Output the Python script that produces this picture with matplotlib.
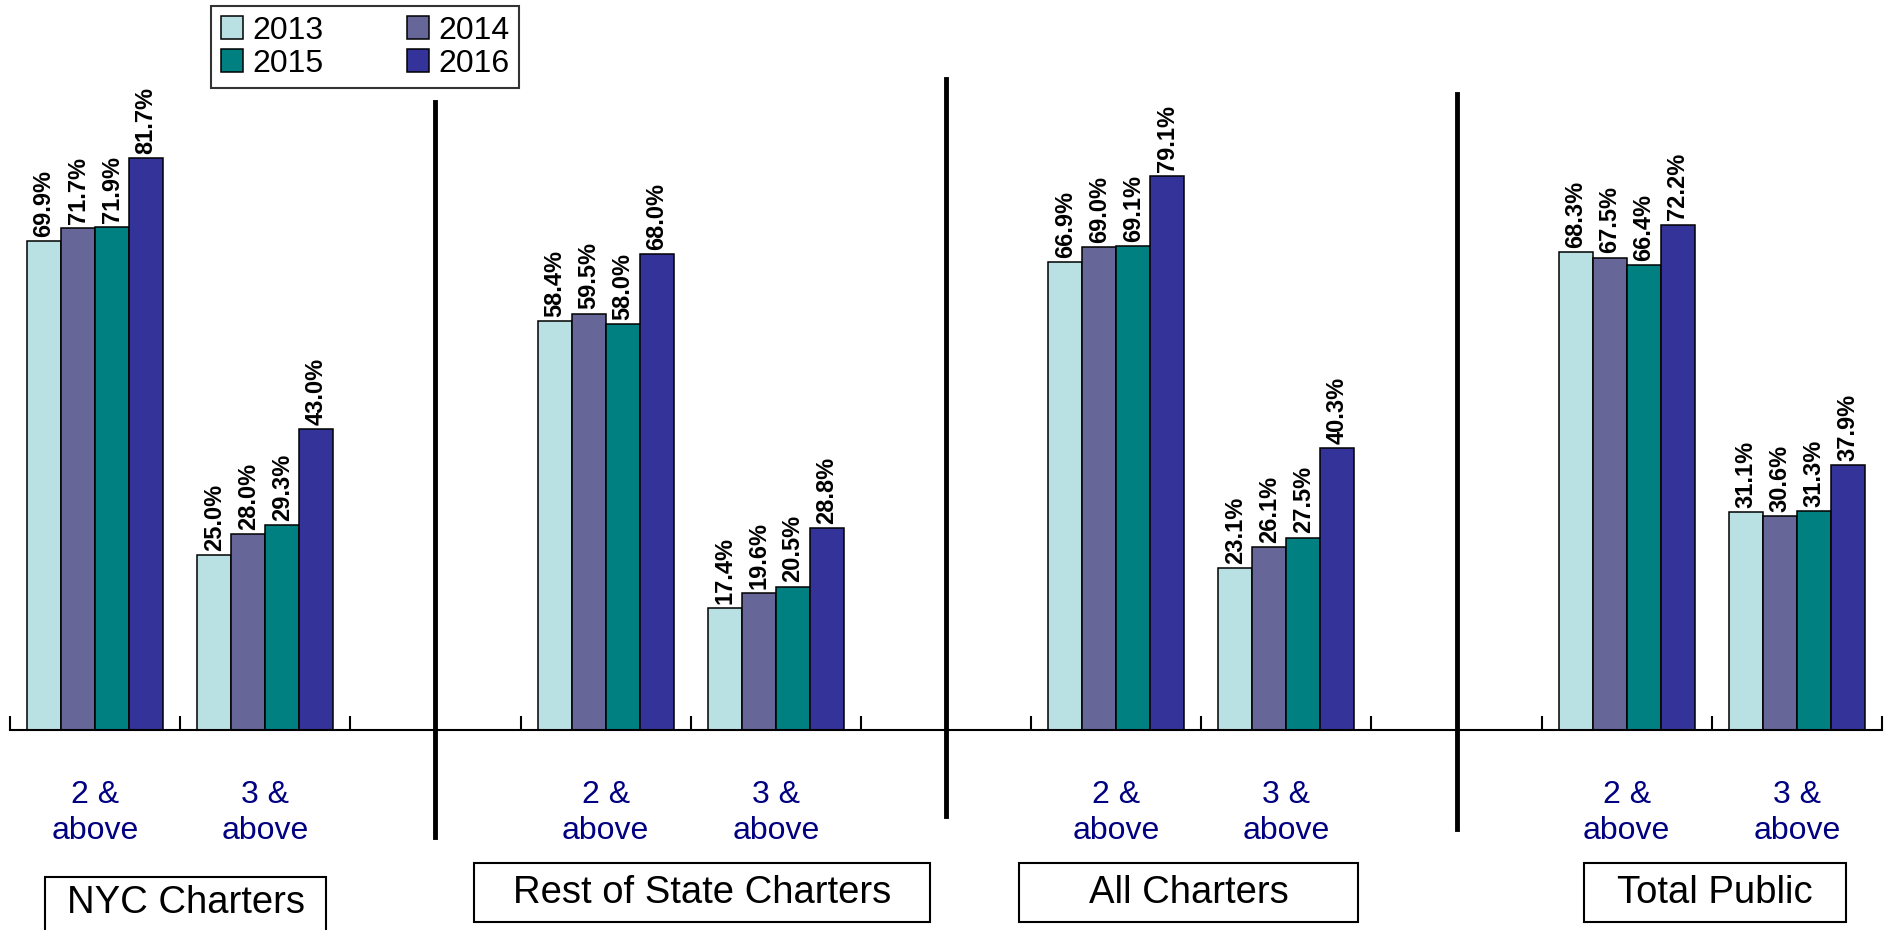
import numpy as np
import matplotlib.pyplot as plt
from matplotlib.patches import Rectangle
import matplotlib.transforms as mtransforms

plt.rcParams['font.family'] = ['Liberation Sans', 'DejaVu Sans']

years = ['2013', '2014', '2015', '2016']
colors = ['#B9E0E3', '#666699', '#008080', '#333399']
groups = ['NYC Charters', 'Rest of State Charters', 'All Charters', 'Total Public']
levels = ['2 &\nabove', '3 &\nabove']

# values[group][level][year]
values = {
    'NYC Charters': [[69.9, 71.7, 71.9, 81.7], [25.0, 28.0, 29.3, 43.0]],
    'Rest of State Charters': [[58.4, 59.5, 58.0, 68.0], [17.4, 19.6, 20.5, 28.8]],
    'All Charters': [[66.9, 69.0, 69.1, 79.1], [23.1, 26.1, 27.5, 40.3]],
    'Total Public': [[68.3, 67.5, 66.4, 72.2], [31.1, 30.6, 31.3, 37.9]],
}

fig = plt.figure(figsize=(18.84, 9.30), dpi=100)
ax = fig.add_axes([10 / 1884, 1 - 730 / 930, 1872 / 1884, 700 / 930])

bw = 0.2
centers = []
handles = {}
for g, name in enumerate(groups):
    for l in range(2):
        c = g * 3 + l
        centers.append(c)
        for k in range(4):
            v = values[name][l][k]
            x = c + (k - 1.5) * bw
            b = ax.bar(x, v, width=bw, color=colors[k], edgecolor='black', linewidth=1.1)
            handles.setdefault(years[k], b)
            ax.annotate(f'{v:.1f}%', (x, v), xytext=(0, 3), textcoords='offset points',
                        rotation=90, ha='center', va='bottom', fontsize=17,
                        fontweight='bold')

ax.set_xlim(-0.5, 10.5)
ax.set_ylim(0, 100)
for s in ['top', 'left', 'right']:
    ax.spines[s].set_visible(False)
ax.spines['bottom'].set_linewidth(1.5)
ax.set_yticks([])
ax.set_xticks(centers)
ax.set_xticklabels(levels * 4, fontsize=23, color='#000080', linespacing=1.25)
ax.set_xticks(np.arange(-0.5, 11, 1), minor=True)
ax.tick_params(axis='x', which='major', length=0, pad=36)
ax.tick_params(axis='x', which='minor', direction='in', length=10, width=1.5)

# vertical separators between groups
sep_x = [2, 5, 8]
sep_top = [89.7, 93.0, 90.9]
sep_bot = [-15.3, -12.3, -14.1]
for x, t, b in zip(sep_x, sep_top, sep_bot):
    ax.plot([x, x], [b, t], color='black', linewidth=3.5, clip_on=False)

# group name boxes
trans = mtransforms.blended_transform_factory(ax.transData, fig.transFigure)
box_x = [(-0.296, 1.359), (2.225, 4.908), (5.43, 7.42), (8.75, 10.29)]
box_y = [(-0.02, 0.057), (0.0086, 0.072), (0.0086, 0.072), (0.0086, 0.072)]
for name, (x0, x1), (y0, y1) in zip(groups, box_x, box_y):
    r = Rectangle((x0, y0), x1 - x0, y1 - y0, transform=trans, fill=False,
                  edgecolor='black', linewidth=1.5, clip_on=False)
    fig.add_artist(r)
    ty = (max(y0, 0.0) + y1) / 2 if y0 < 0 else (y0 + y1) / 2
    ax.text((x0 + x1) / 2, ty, name, transform=trans, ha='center', va='center',
            fontsize=27.5)

# legend filled row by row: 2013 2014 / 2015 2016
order = ['2013', '2015', '2014', '2016']
leg = fig.legend([handles[y] for y in order], order, loc='upper left',
                 bbox_to_anchor=(211 / 1884, 1 - 6 / 930), ncol=2,
                 fontsize=23, frameon=True, fancybox=False, edgecolor='black',
                 handlelength=0.7, handleheight=0.7, handletextpad=0.3,
                 columnspacing=2.6, labelspacing=0.1, borderpad=0.3,
                 borderaxespad=0)
leg.get_frame().set_linewidth(1.5)

fig.savefig('out.png', dpi=100)
